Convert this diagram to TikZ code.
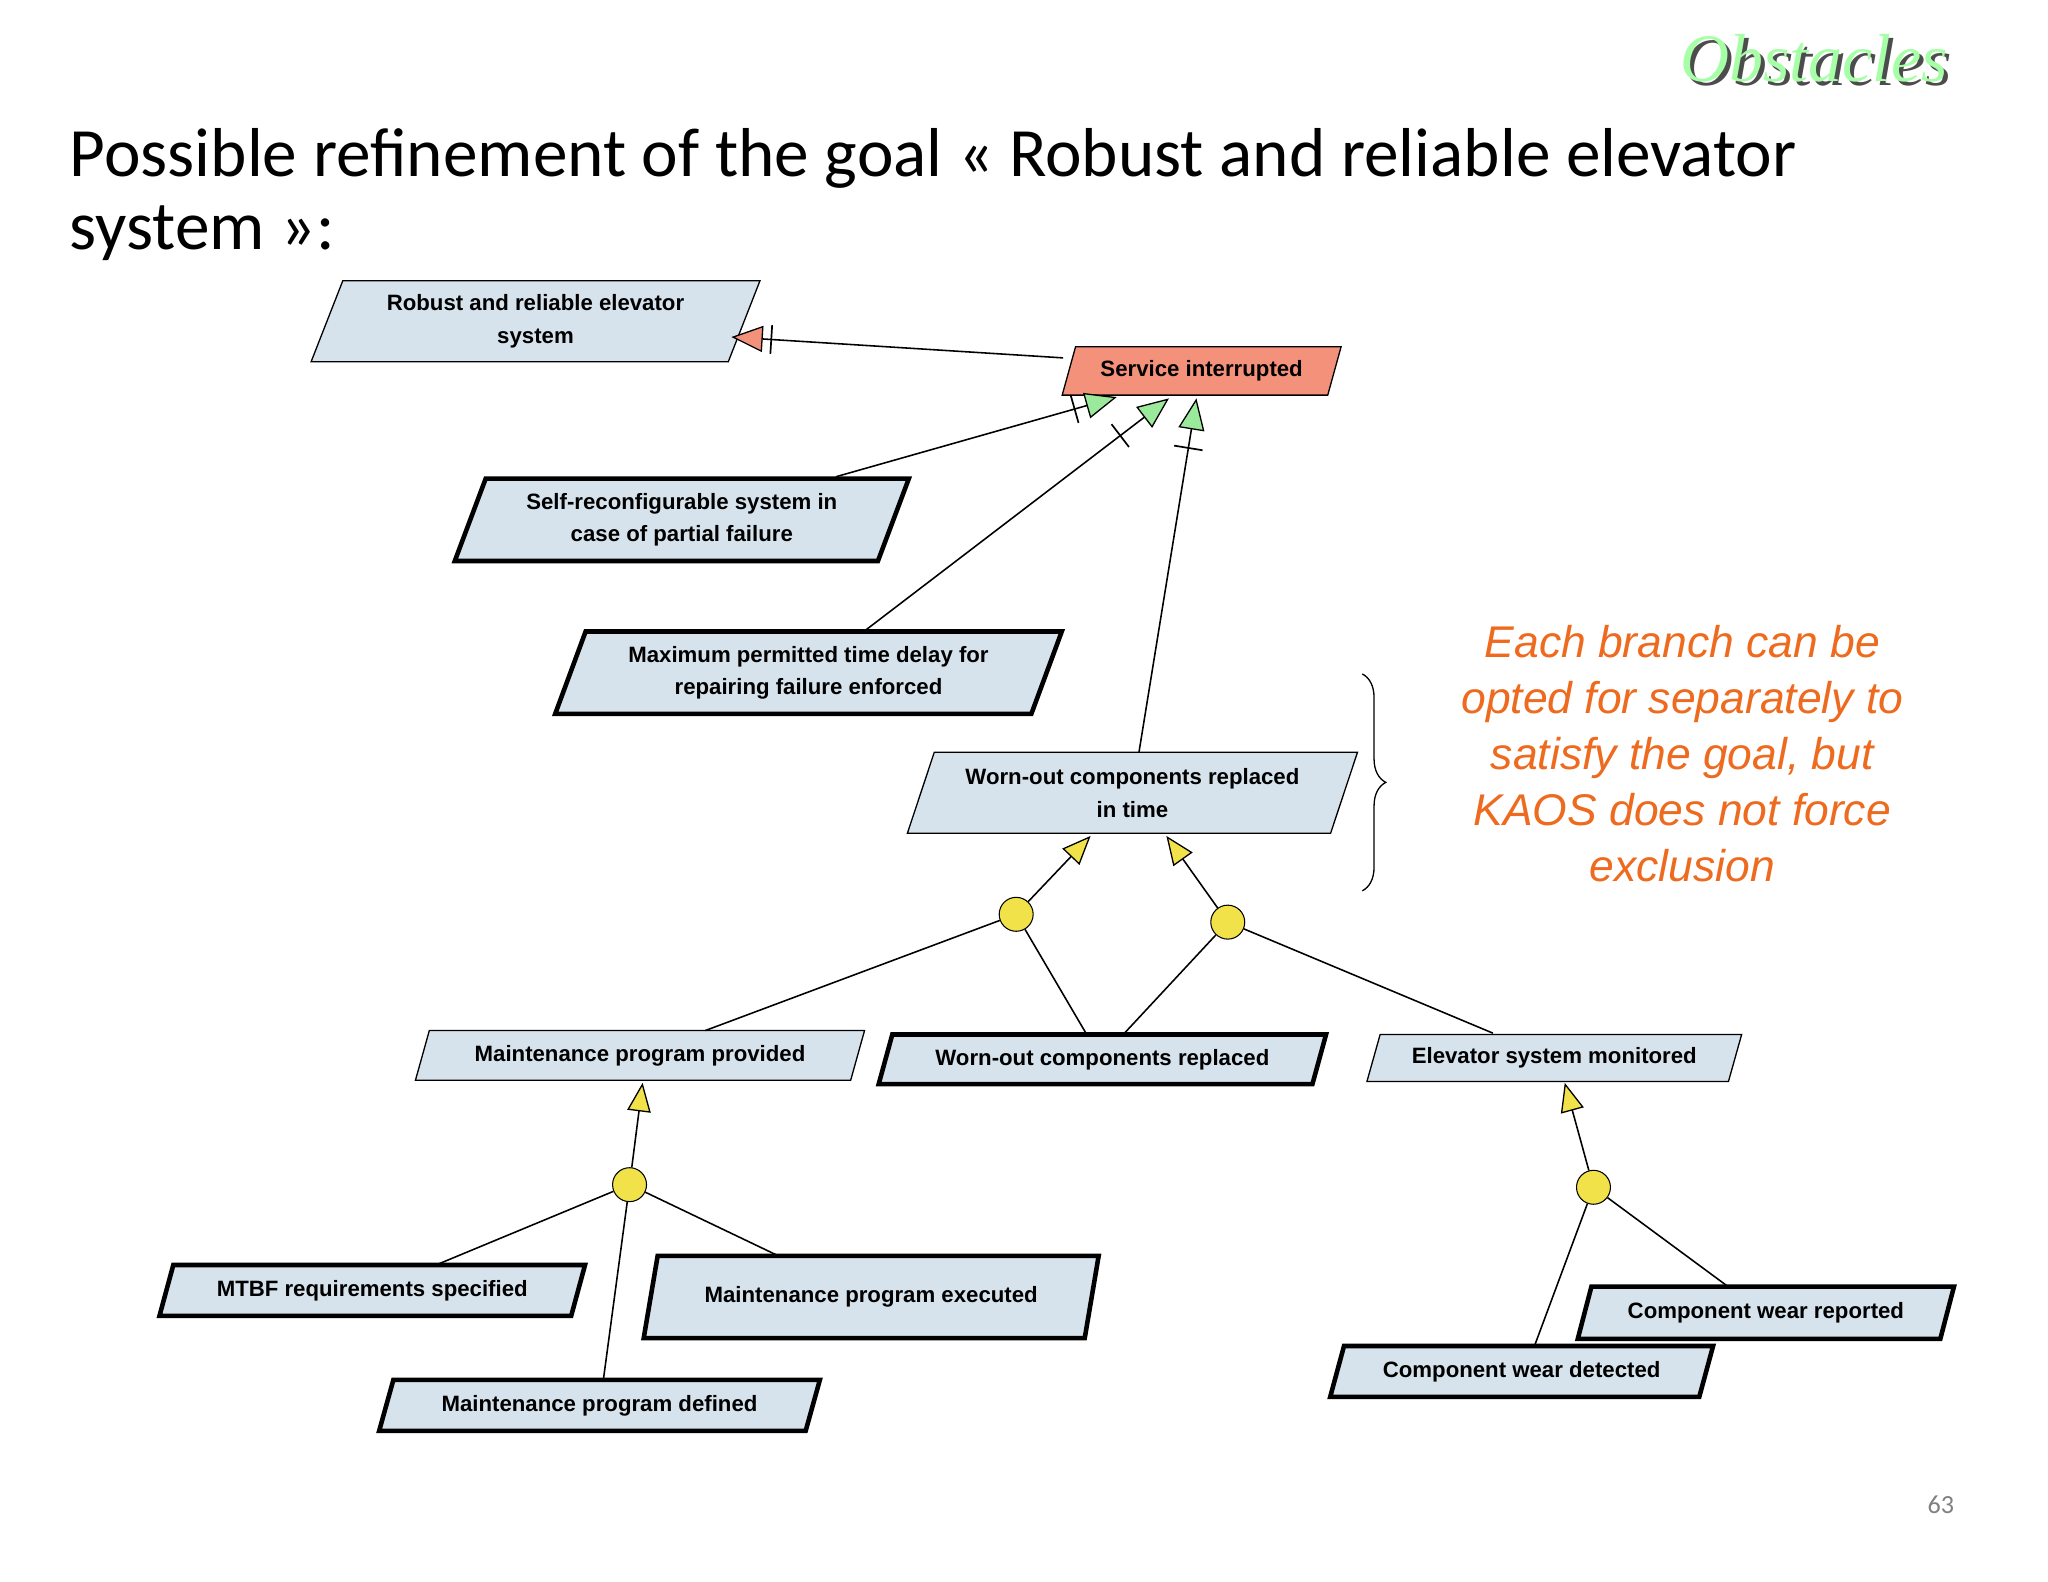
\documentclass[tikz,border=0pt]{standalone}
\usepackage{fontspec}
\setmainfont{Liberation Sans}
\newfontfamily\titlefont{Carlito}
\newfontfamily\obsfont{Liberation Serif}
\usetikzlibrary{shapes.geometric,arrows.meta,decorations.markings,decorations.pathreplacing}
\definecolor{gbox}{HTML}{D6E3EC}
\definecolor{salmon}{HTML}{F4917A}
\definecolor{arrg}{HTML}{9BEA9B}
\definecolor{arry}{HTML}{F2E24A}
\definecolor{orng}{HTML}{EE6A1E}
\begin{document}
\begin{tikzpicture}[x=1pt,y=-1pt,
  box/.style={trapezium,trapezium left angle=67,trapezium right angle=113,trapezium stretches=true,
    draw=black,fill=gbox,line width=1pt,font=\bfseries\fontsize{17}{25}\selectfont,align=center,inner sep=2pt},
  thick box/.style={box,line width=3.5pt},
  circ/.style={circle,draw=black,fill=arry,minimum size=26pt,inner sep=0pt,line width=0.8pt},
  tick/.style={postaction={decorate,decoration={markings,mark=at position #1 with {\draw[-,line width=1.3pt] (0,-11pt)--(0,11pt);}}}},
  garr/.style={draw=black,line width=1.2pt,-{Triangle[length=24pt,width=20pt,fill=arrg,line width=1pt]}},
  yarr/.style={draw=black,line width=1.2pt,-{Triangle[length=22pt,width=18pt,fill=arry,line width=1pt]}},
  line/.style={draw=black,line width=1.2pt}]
\useasboundingbox (0,0) rectangle (1568,1211);
\fill[white] (0,0) rectangle (1568,1211);
% title
\node[font=\obsfont\itshape\fontsize{52}{52}\selectfont,text=black!70] at (1392,48) {Obstacles};
\node[font=\obsfont\itshape\fontsize{52}{52}\selectfont,text=green!35!white] at (1389,45) {Obstacles};
\node[anchor=west,font=\titlefont\fontsize{53}{56}\selectfont,align=left] at (50,149) {Possible refinement of the goal « Robust and reliable elevator\\system »:};
\node[text=gray,font=\titlefont\fontsize{20}{20}\selectfont] at (1486,1152) {63};
% nodes
\node[box,minimum width=345pt,minimum height=62pt] (robust) at (410,246) {Robust and reliable elevator\\system};
\node[box,fill=salmon,minimum width=214pt,minimum height=37pt] (serv) at (920,284) {Service interrupted};
\node[thick box,minimum width=349pt,minimum height=63pt] (self) at (522,398) {Self-reconfigurable system in\\case of partial failure};
\node[thick box,minimum width=388pt,minimum height=63pt] (max) at (619,515) {Maximum permitted time delay for\\repairing failure enforced};
\node[box,minimum width=345pt,minimum height=62pt] (wit) at (867,607) {Worn-out components replaced\\in time};
\node[box,minimum width=344pt,minimum height=38pt] (mpp) at (490,808) {Maintenance program provided};
\node[thick box,minimum width=344pt,minimum height=38pt] (wcr) at (844,811) {Worn-out components replaced};
\node[box,minimum width=287pt,minimum height=36pt] (esm) at (1190,810) {Elevator system monitored};
\node[thick box,minimum width=326pt,minimum height=39pt] (mtbf) at (285,988) {MTBF requirements specified};
\node[thick box,minimum width=349pt,minimum height=63pt] (mpe) at (667,993) {Maintenance program executed};
\node[thick box,minimum width=338pt,minimum height=39pt] (mpd) at (459,1076) {Maintenance program defined};
\node[thick box,minimum width=289pt,minimum height=40pt] (cwr) at (1352,1005) {Component wear reported};
\node[thick box,minimum width=294pt,minimum height=39pt] (cwd) at (1165,1050) {Component wear detected};
\node[circ] (c1) at (778,700) {};
\node[circ] (c2) at (940,706) {};
\node[circ] (c3) at (482,907) {};
\node[circ] (c4) at (1220,909) {};
% coordinates on borders
\coordinate (sL) at (814,274);
\coordinate (rR) at (560,258);
\coordinate (s1) at (855,304);
\coordinate (s2) at (895,305);
\coordinate (s3) at (916,305);
\coordinate (a1) at (640,365);
\coordinate (a2) at (662,483);
\coordinate (a3) at (872,576);
% connectors
\draw[line width=1.2pt,tick=0.88,-{Triangle[length=24pt,width=20pt,fill=salmon,line width=1pt]}] (sL) -- (rR);
\draw[garr,tick=0.85] (a1) -- (s1);
\draw[garr,tick=0.84] (a2) -- (s2);
\draw[garr,tick=0.86] (a3) -- (s3);
\draw[yarr] (c1) -- (835,640);
\draw[yarr] (c2) -- (893,640);
\draw[line] (c1) -- (540,789);
\draw[line] (c1) -- (832,792);
\draw[line] (c2) -- (860,792);
\draw[line] (c2) -- (1143,791);
\draw[yarr] (c3) -- (492,829);
\draw[line] (c3) -- (335,968);
\draw[line] (c3) -- (597,962);
\draw[line] (c3) -- (462,1056);
\draw[yarr] (c4) -- (1198,829);
\draw[line] (c4) -- (1175,1030);
\draw[line] (c4) -- (1323,985);
% brace
\draw[line width=1pt,decorate,decoration={brace,amplitude=18pt}] (1043,516) -- (1043,682);
\node[text=orng,font=\itshape\fontsize{34}{43}\selectfont,align=center] at (1288,577) {Each branch can be\\opted for separately to\\satisfy the goal, but\\KAOS does not force\\exclusion};
\end{tikzpicture}
\end{document}
